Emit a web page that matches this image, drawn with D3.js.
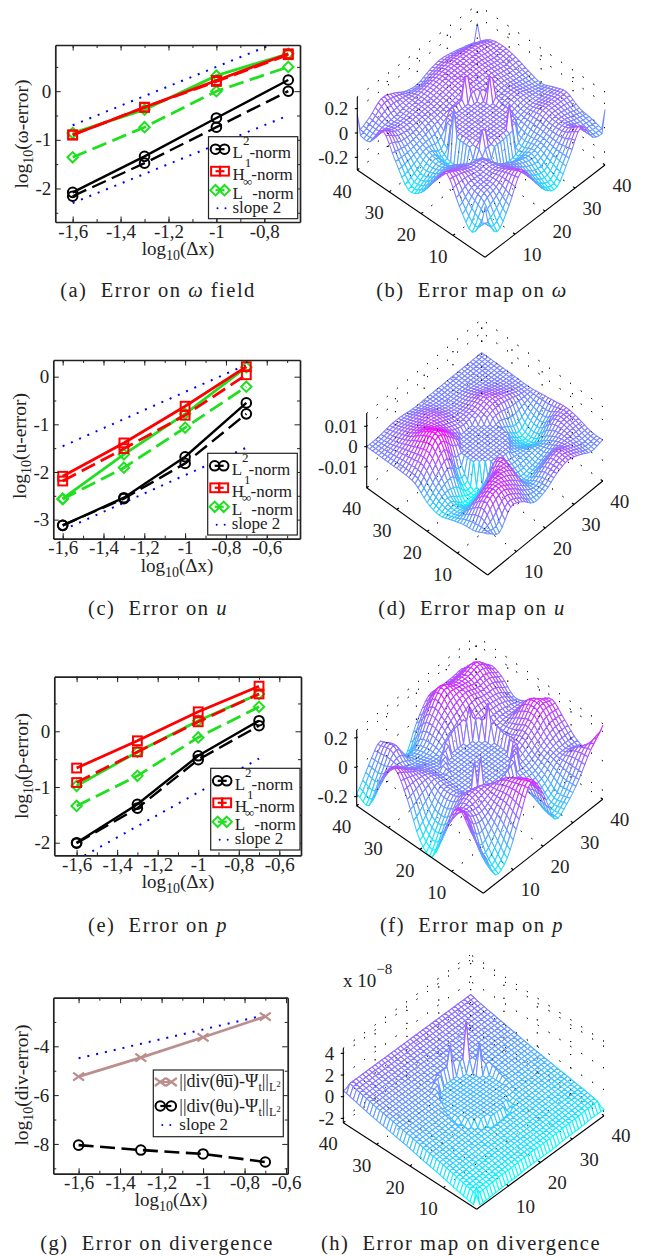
<!DOCTYPE html>
<html>
<head>
<meta charset="utf-8">
<script src="https://cdn.jsdelivr.net/npm/d3@7"></script>
<style>
  body { margin: 0; background: #fff; }
  svg { display: block; }
  text { font-family: "Liberation Serif", serif; fill: #222; }
</style>
</head>
<body>
<svg width="647" height="1256"></svg>
<script>
  // ---- line plots, values ----
  const logDx = [-1.6, -1.3, -1, -0.7];

  const omegaL2 = [-2.08, -1.34, -0.55, 0.23];
  const omegaL2Dash = [-2.16, -1.48, -0.74, 0];
  const omegaH1 = [-0.9, -0.33, 0.22, 0.77];
  const omegaH1Dash = [-0.9, -0.33, 0.2, 0.75];
  const omegaInf = [-0.86, -0.38, 0.32, 0.77];
  const omegaInfDash = [-1.36, -0.74, 0, 0.5];
  const omegaSlopes = [[-0.7, 1.1], [-2.3, -0.5]];

  const uL2 = [-3.12, -2.54, -1.68, -0.55];
  const uL2Dash = [-3.12, -2.56, -1.82, -0.78];
  const uH1 = [-2.09, -1.39, -0.62, 0.21];
  const uH1Dash = [-2.19, -1.51, -0.81, 0.04];
  const uInf = [-2.56, -1.63, -0.78, 0.2];
  const uInfDash = [-2.57, -1.91, -1.07, -0.21];
  const uSlopes = [[-1.46, 0.25], [-3.22, -1.49]];

  const pL2 = [-2, -1.31, -0.44, 0.19];
  const pL2Dash = [-2.01, -1.38, -0.51, 0.1];
  const pH1 = [-0.66, -0.17, 0.35, 0.81];
  const pH1Dash = [-0.92, -0.37, 0.17, 0.67];
  const pInf = [-0.98, -0.37, 0.19, 0.67];
  const pInfDash = [-1.34, -0.8, -0.11, 0.44];
  const pSlopes = [[-2.31, -0.49]];

  const divBar = [-5.24, -4.46, -3.63, -2.78];
  const divPlain = [-8.05, -8.25, -8.41, -8.74];
  const divSlope = [-4.49, -2.72];

  // ---- surfaces: heights estimated by eye every 4th mesh node, rows v=0..40, columns u=0..40 ----
  // the mesh nodes in between are a smooth resample of these, a 41x41 table can't be read off the picture
  const omegaHeights = [
    [0, -.17, -.03, .17, .03, -.13, -.18, -.02, .16, 0, -.03],
    [-.17, 0, .05, .12, .03, -.08, -.12, -.02, .08, .02, 0],
    [-.03, .05, .06, .07, .02, -.03, -.05, 0, .06, .05, .02],
    [.17, .12, .07, .06, -.05, -.12, -.10, 0, .08, .08, .08],
    [.03, .03, .02, -.05, .05, .05, -.03, .02, .05, .05, .05],
    [-.13, -.08, -.06, -.14, .05, .07, .05, .05, .07, .04, .01],
    [-.18, -.12, -.05, -.12, .05, .07, .08, .06, .07, .05, .04],
    [-.02, -.02, 0, .03, .06, .08, .10, .10, .10, .08, .08],
    [.16, .08, .06, .07, .08, .10, .12, .12, .12, .10, .10],
    [0, .04, .05, .07, .08, .10, .12, .13, .13, .12, .08],
    [0, .05, .13, .10, .04, .02, .06, .08, .06, .03, 0]
  ];
  const omegaHole = [6.5, 0.07];
  const omegaRim = [.08, .13, .14, .1, .1, .08, .05, .05, .05, .05, .07, .08];
  const omegaSpikes = [[0, 40, .15], [40, 0, .15], [40, 40, .14], [0, 0, .11],
    [22, 27, .28], [23, 27, .26], [26, 23, .28], [27, 23, .24], [13, 22, .27], [23, 14, .26], [15, 15, .19], [16, 15, .17]];

  const uHeights = [
    [0, -.004, .004, .002, -.003, -.002, .002, .004, .002, -.001, 0],
    [-.003, .006, .009, .006, .001, -.003, .001, .004, .002, 0, 0],
    [-.004, .002, .006, .008, .006, -.005, -.005, -.003, 0, .002, .002],
    [-.006, -.006, -.006, -.002, .006, -.002, -.003, -.003, -.004, .002, .003],
    [-.008, -.006, -.011, -.012, -.010, 0, -.002, -.006, -.009, -.004, .002],
    [-.006, -.001, .002, -.008, 0, 0, 0, -.004, -.008, -.003, .001],
    [-.001, .006, .013, .008, .002, 0, .002, .004, .003, .001, 0],
    [0, .005, .011, .008, .004, .002, .003, .005, .003, .001, 0],
    [0, .003, .006, .006, .005, .002, .001, .002, .001, 0, 0],
    [0, .001, .003, .003, .003, .001, 0, 0, 0, 0, 0],
    [0, 0, .001, .001, 0, 0, 0, 0, 0, 0, 0]
  ];
  const uHole = [6.4, 0];
  const uRim = [];
  const uSpikes = [];

  const pHeights = [
    [0, -.2, -.15, .05, .24, .1, -.14, -.1, 0, .14, .22],
    [.1, -.12, -.05, .1, .2, .1, -.12, -.12, 0, .1, .02],
    [.2, .08, .05, .1, .15, .02, -.05, -.05, .02, .03, .02],
    [0, .05, .1, .1, .05, 0, 0, 0, .05, .1, .1],
    [-.25, -.1, .03, 0, 0, 0, 0, .05, .12, .2, .18],
    [-.2, -.1, .02, 0, 0, 0, 0, .02, .08, .18, .12],
    [.02, .05, .05, 0, 0, 0, 0, .03, .05, .05, .05],
    [.17, .1, .04, 0, -.02, 0, .05, .1, .1, .08, .02],
    [.05, .05, 0, -.03, -.02, .08, .15, .18, .15, .15, .1],
    [-.2, -.05, .08, -.05, -.05, .1, .22, .18, .18, .2, .12],
    [-.18, -.05, .05, -.1, -.19, -.02, .1, .1, .1, .1, 0]
  ];
  const pHole = [7.4, 0];
  const pRim = [.08, .12, .14, .12, .05, .02, 0, 0, .02, .05, .1, .1];
  const pSpikes = [[40, 0, .24], [24, 27, .22], [27, 24, .24], [15, 15, .2], [14, 16, .17]];

  const divHeights = [
    [-1.5, -1.5, -1.4, -1.4, -1.3, -1.3, -1.3, -1.2, -1.2, -1.1, -1.1],
    [-1.25, -1.2, -1.15, -1.1, -1.05, -1.05, -1.05, -1, -.95, -.9, -.85],
    [-.95, -.9, -.9, -.85, -.85, -.8, -.8, -.75, -.75, -.7, -.65],
    [-.65, -.65, -.6, -.6, -.6, -.55, -.55, -.55, -.5, -.5, -.45],
    [-.4, -.4, -.4, -.35, -.35, -.35, -.35, -.3, -.3, -.25, -.25],
    [-.1, -.1, -.1, -.1, -.1, -.05, -.05, -.05, -.05, -.05, -.05],
    [.15, .15, .15, .15, .15, .15, .15, .15, .2, .2, .2],
    [.4, .4, .4, .4, .4, .4, .4, .45, .45, .45, .45],
    [.65, .65, .65, .65, .65, .65, .7, .7, .7, .7, .7],
    [.95, .95, .95, .95, .95, .95, .95, .95, .95, .95, .95],
    [1.25, 1.25, 1.25, 1.25, 1.25, 1.25, 1.25, 1.25, 1.25, 1.25, 1.25]
  ];
  const divHole = [7.4, -0.3];
  const divRim = [.2, .7, .9, .8, .8, .2, -.3, -.8, -1, -1, -.8, -.3];
  const divSpikes = [[0, 0, -.3], [25, 27, 4.1], [21, 28, 2.6], [26, 24, 2.5]];
  const divEdgeDrop = 0.7;

  const zTicksOmega = [-0.2, 0, 0.2];
  const zTicksU = [-0.01, 0, 0.01];
  const zTicksDiv = [-2, 0, 2, 4];
  const baseTicks = [10, 20, 30, 40];

  // ---- colours ----
  const black = '#000', red = '#ff0000', green = '#1fe01f', blue = '#0000ee', brown = '#bc8f8f';
  const ink = '#222';

  const svg = d3.select('svg');

  function marker(g, kind, x, y, color) {
    const s = g.append('g').attr('transform', `translate(${x},${y})`)
      .attr('fill', 'none').attr('stroke', color).attr('stroke-width', 2);
    if (kind === 'circle') s.append('circle').attr('r', 4.8);
    if (kind === 'square') s.append('rect').attr('x', -4.4).attr('y', -4.4).attr('width', 8.8).attr('height', 8.8);
    if (kind === 'diamond') s.append('path').attr('d', 'M0,-5.2L5.2,0L0,5.2L-5.2,0Z');
    if (kind === 'cross') s.append('path').attr('d', 'M-5.5,-4L5.5,4M-5.5,4L5.5,-4').attr('stroke-width', 2.2);
  }

  let clipId = 0;
  function linePlot(p) {
    const x = d3.scaleLinear(p.xDomain, [p.box[0], p.box[2]]);
    const y = d3.scaleLinear(p.yDomain, [p.box[1], p.box[3]]);
    const g = svg.append('g');
    const id = 'clip' + (clipId++);
    g.append('clipPath').attr('id', id).append('rect')
      .attr('x', p.box[0]).attr('y', p.box[1])
      .attr('width', p.box[2] - p.box[0]).attr('height', p.box[3] - p.box[1]);

    const line = d3.line().x(d => x(d[0])).y(d => y(d[1]));
    const plot = g.append('g').attr('clip-path', `url(#${id})`);

    p.slopes.forEach(s => {
      plot.append('path').attr('d', line([[logDx[0], s[0]], [logDx[3], s[1]]]))
        .attr('fill', 'none').attr('stroke', blue).attr('stroke-width', 2).attr('stroke-dasharray', '2 7');
    });
    p.series.forEach(s => {
      const pts = logDx.map((d, i) => [d, s.values[i]]);
      plot.append('path').attr('d', line(pts)).attr('fill', 'none')
        .attr('stroke', s.color).attr('stroke-width', s.width || 2.4)
        .attr('stroke-dasharray', s.dash ? '15 6.5' : null);
      pts.forEach(d => marker(plot, s.kind, x(d[0]), y(d[1]), s.color));
    });

    // axes, all four sides with inward ticks
    const fmt = d => String(d).replace('.', ',');
    const axes = [
      [d3.axisBottom(x), 0, p.box[3], p.xTicks, p.xMinor],
      [d3.axisTop(x), 0, p.box[1], p.xTicks, p.xMinor],
      [d3.axisLeft(y), p.box[0], 0, p.yTicks, p.yMinor],
      [d3.axisRight(y), p.box[2], 0, p.yTicks, p.yMinor]
    ];
    axes.forEach((a, i) => {
      const minor = g.append('g').attr('transform', `translate(${a[1]},${a[2]})`)
        .call(a[0].tickValues(a[4]).tickSize(-3).tickFormat(''));
      minor.select('.domain').remove();
      minor.selectAll('line').attr('stroke', ink);
      const major = g.append('g').attr('transform', `translate(${a[1]},${a[2]})`)
        .call(a[0].tickValues(a[3]).tickSize(-5.5).tickSizeOuter(0)
          .tickFormat(i === 0 || i === 2 ? fmt : ''));
      major.select('.domain').attr('stroke', ink).attr('stroke-width', 1.7);
      major.selectAll('line').attr('stroke', ink);
      major.selectAll('text').attr('fill', ink).attr('font-size', 19)
        .attr('font-family', '"Liberation Serif", serif');
      if (i === 0) major.selectAll('text').attr('y', 2).attr('dy', '0.71em');
      if (i === 2) major.selectAll('text').attr('x', -4);
    });

    // x label
    const xl = g.append('text').attr('x', p.xLabel[0]).attr('y', p.xLabel[1])
      .attr('text-anchor', 'middle').attr('font-size', 19);
    xl.append('tspan').text('log');
    xl.append('tspan').attr('font-size', 14).attr('dy', 5).text('10');
    xl.append('tspan').attr('dy', -5).text('(Δx)');
    // y label
    const yl = g.append('text').attr('transform', `translate(${p.yLabel[0]},${p.yLabel[1]}) rotate(-90)`)
      .attr('text-anchor', 'middle').attr('font-size', 19.5);
    yl.append('tspan').text('log');
    yl.append('tspan').attr('font-size', 14).attr('dy', 5).text('10');
    yl.append('tspan').attr('dy', -5).text(`(${p.yName}-error)`);

    legend(g, p);
  }

  function legend(g, p) {
    const b = p.legend;
    g.append('rect').attr('x', b[0]).attr('y', b[1]).attr('width', b[2] - b[0]).attr('height', b[3] - b[1])
      .attr('fill', '#fff').attr('stroke', ink).attr('stroke-width', 1.2);
    p.legendRows.forEach(r => {
      const yy = b[1] + r.y;
      if (r.kind) {
        g.append('line').attr('x1', b[0] + r.mx[0]).attr('x2', b[0] + r.mx[1]).attr('y1', yy).attr('y2', yy)
          .attr('stroke', r.color).attr('stroke-width', 2.2);
        r.mx.forEach(m => marker(g, r.kind, b[0] + m, yy, r.color));
      } else {
        [9, 17].forEach(m => g.append('circle').attr('cx', b[0] + m).attr('cy', yy).attr('r', 1).attr('fill', blue));
      }
      const t = g.append('text').attr('x', b[0] + r.tx).attr('y', b[1] + r.base).attr('font-size', r.size || 17);
      r.parts.forEach(q => {
        const s = t.append('tspan').text(q[0]);
        if (q[1]) s.attr('dy', q[1]);
        if (q[2]) s.attr('font-size', q[2]);
      });
    });
  }

  const normRows = [
    { y: 12.5, base: 21.5, tx: 24, kind: 'circle', color: black, mx: [7, 16], parts: [['L'], ['2', -13, 13], ['-norm', 13, 17]] },
    { y: 34.5, base: 43.5, tx: 24, kind: 'square', color: red, mx: [7, 16], parts: [['H'], ['1', -13, 13], ['-norm', 13, 17]] },
    { y: 53.5, base: 62, tx: 24, kind: 'diamond', color: green, mx: [7, 16], parts: [['L'], ['∞', -13, 13], ['-norm', 13, 17]] },
    { y: 71.5, base: 76, tx: 24, parts: [['slope 2']] }
  ];

  function normSeries(a, b, c, d, e, f) {
    return [
      { values: a, color: black, kind: 'circle' },
      { values: b, color: black, kind: 'circle', dash: true },
      { values: e, color: green, kind: 'diamond', width: 2.8 },
      { values: f, color: green, kind: 'diamond', dash: true, width: 2.8 },
      { values: c, color: red, kind: 'square', width: 2.8 },
      { values: d, color: red, kind: 'square', dash: true, width: 2.8 }
    ];
  }

  linePlot({
    box: [55.3, 45, 300, 222], xDomain: [-1.6725, -0.651], yDomain: [0.95, -2.69],
    xTicks: [-1.6, -1.4, -1.2, -1, -0.8], xMinor: d3.range(-1.6, -0.7, 0.1), yTicks: [-2, -1, 0], yMinor: [-2.5, -1.5, -0.5, 0.5],
    slopes: omegaSlopes, series: normSeries(omegaL2, omegaL2Dash, omegaH1, omegaH1Dash, omegaInf, omegaInfDash),
    xLabel: [178, 255], yLabel: [28, 134], yName: 'ω',
    legend: [208.5, 136.7, 297.7, 218.7], legendRows: normRows
  });
  linePlot({
    box: [53.3, 360, 300, 538.7], xDomain: [-1.646, -0.437], yDomain: [0.35, -3.4],
    xTicks: [-1.6, -1.4, -1.2, -1, -0.8, -0.6], xMinor: d3.range(-1.6, -0.45, 0.1), yTicks: [-3, -2, -1, 0], yMinor: [-2.5, -1.5, -0.5],
    slopes: uSlopes, series: normSeries(uL2, uL2Dash, uH1, uH1Dash, uInf, uInfDash),
    xLabel: [177, 572], yLabel: [26, 446], yName: 'u',
    legend: [207.7, 453.3, 297.3, 535], legendRows: normRows
  });
  linePlot({
    box: [54.3, 676.7, 301, 855.3], xDomain: [-1.71, -0.493], yDomain: [0.98, -2.226],
    xTicks: [-1.6, -1.4, -1.2, -1, -0.8, -0.6], xMinor: d3.range(-1.6, -0.5, 0.1), yTicks: [-2, -1, 0], yMinor: [-1.5, -0.5, 0.5],
    slopes: pSlopes, series: normSeries(pL2, pL2Dash, pH1, pH1Dash, pInf, pInfDash),
    xLabel: [178, 888], yLabel: [28, 766], yName: 'p',
    legend: [210.7, 768.3, 300, 850], legendRows: normRows
  });
  linePlot({
    box: [53.3, 997.7, 287.7, 1173.7], xDomain: [-1.722, -0.592], yDomain: [-2.008, -9.22],
    xTicks: [-1.6, -1.4, -1.2, -1, -0.8, -0.6], xMinor: d3.range(-1.6, -0.6, 0.1), yTicks: [-8, -6, -4], yMinor: [-9, -7, -5, -3],
    slopes: [divSlope],
    series: [
      { values: divBar, color: brown, kind: 'cross', width: 2.8 },
      { values: divPlain, color: black, kind: 'circle', dash: true, width: 2.6 }
    ],
    xLabel: [171, 1206], yLabel: [28, 1085], yName: 'div',
    legend: [153.3, 1070, 283.3, 1136.7],
    legendRows: [
      { y: 12, base: 17, tx: 26, size: 18, kind: 'cross', color: brown, mx: [7, 18], parts: [['||div(θu̅)-Ψ'], ['t', 4, 12], ['||', -4, 18], ['L', 4, 12], ['2', -4, 9]] },
      { y: 36, base: 41.5, tx: 26, size: 18, kind: 'circle', color: black, mx: [7, 18], parts: [['||div(θu)-Ψ'], ['t', 4, 12], ['||', -4, 18], ['L', 4, 12], ['2', -4, 9]] },
      { y: 55, base: 59.5, tx: 26, parts: [['slope 2']] }
    ]
  });

  // catmull-rom through the read heights, every 4 nodes up to 41x41
  function resample(h) {
    const cr = (a, b, c, d, t) => 0.5 * (2 * b + (c - a) * t + (2 * a - 5 * b + 4 * c - d) * t * t + (3 * b - a - 3 * c + d) * t * t * t);
    const at = (r, c) => h[Math.max(0, Math.min(10, r))][Math.max(0, Math.min(10, c))];
    const out = [];
    for (let v = 0; v <= 40; v++) {
      const row = [];
      const r = Math.min(9, Math.floor(v / 4)), tv = v / 4 - r;
      for (let u = 0; u <= 40; u++) {
        const c = Math.min(9, Math.floor(u / 4)), tu = u / 4 - c;
        const col = [-1, 0, 1, 2].map(i => cr(at(r + i, c - 1), at(r + i, c), at(r + i, c + 1), at(r + i, c + 2), tu));
        row.push(cr(col[0], col[1], col[2], col[3], tv));
      }
      out.push(row);
    }
    return out;
  }

  function surface(p) {
    const dx = d3.scaleLinear([0, 40], [0, 1]);
    const px = (u, v) => p.O[0] + dx(u) * (p.R[0] - p.O[0]) + dx(v) * (p.L[0] - p.O[0]);
    const py = (u, v) => p.O[1] + dx(u) * (p.R[1] - p.O[1]) + dx(v) * (p.L[1] - p.O[1]);
    const zs = d3.scaleLinear(p.zDomain, [0, -p.zHeight]);
    const color = d3.scaleLinear(p.colorDomain, ['#00ffff', '#ff00ff']).clamp(true);

    const grid = resample(p.heights);
    const [hr, hl] = p.hole;
    for (let v = 0; v <= 40; v++) for (let u = 0; u <= 40; u++) {
      const d = Math.hypot(u - 20, v - 20);
      if (d < hr) grid[v][u] = hl;
      else if (d < hr + 1.5 && p.rim.length) {
        const a = ((Math.atan2(v - 20, u - 20) * 180 / Math.PI + 360) % 360) / 30;
        const i = Math.floor(a), t = a - i;
        grid[v][u] = p.rim[i % 12] * (1 - t) + p.rim[(i + 1) % 12] * t;
      }
      if (p.edgeDrop && (u === 0 || v === 0 || u === 40 || v === 40)) grid[v][u] -= p.edgeDrop;
    }
    p.spikes.forEach(s => { grid[s[1]][s[0]] = s[2]; });

    const g = svg.append('g');
    const pt = (u, v) => [px(u, v), py(u, v) + zs(grid[v][u])];

    const dotted = path => g.append('path').attr('d', path).attr('fill', 'none')
      .attr('stroke', '#000').attr('stroke-width', 1).attr('stroke-dasharray', '1 12');
    const seg = (a, b) => `M${a[0]},${a[1]}L${b[0]},${b[1]}`;
    const wallDots = () => {
      const top = zs(p.zDomain[1]);
      baseTicks.forEach(t => {
        dotted(seg([px(t, 0), py(t, 0)], [px(t, 40), py(t, 40)]));
        dotted(seg([px(0, t), py(0, t)], [px(40, t), py(40, t)]));
        dotted(seg([px(t, 40), py(t, 40)], [px(t, 40), py(t, 40) + top]));
        dotted(seg([px(40, t), py(40, t)], [px(40, t), py(40, t) + top]));
      });
      p.zTicks.forEach(z => {
        dotted(seg([px(0, 40), py(0, 40) + zs(z)], [px(40, 40), py(40, 40) + zs(z)]));
        dotted(seg([px(40, 0), py(40, 0) + zs(z)], [px(40, 40), py(40, 40) + zs(z)]));
      });
      dotted(seg([px(0, 40), py(0, 40) + top], [px(40, 40), py(40, 40) + top]));
      dotted(seg([px(40, 0), py(40, 0) + top], [px(40, 40), py(40, 40) + top]));
    };
    wallDots();

    // back to front, white faces hide what is behind them
    for (let v = 39; v >= 0; v--) for (let u = 39; u >= 0; u--) {
      const c = [pt(u, v), pt(u + 1, v), pt(u + 1, v + 1), pt(u, v + 1)];
      const z = (grid[v][u] + grid[v][u + 1] + grid[v + 1][u] + grid[v + 1][u + 1]) / 4;
      g.append('path').attr('d', 'M' + c.join('L') + 'Z').attr('fill', '#fff')
        .attr('stroke', color(z)).attr('stroke-width', 1.05).attr('stroke-linejoin', 'round');
    }
    wallDots();

    // box axes
    const axis = (a, b) => g.append('line').attr('x1', a[0]).attr('y1', a[1]).attr('x2', b[0]).attr('y2', b[1])
      .attr('stroke', '#000').attr('stroke-width', 1.1);
    axis(p.O, p.R);
    axis(p.O, p.L);
    axis(p.L, [p.L[0], p.L[1] - p.zHeight]);
    baseTicks.forEach(t => {
      axis([px(t, 0), py(t, 0)], [px(t, 0) - 2, py(t, 0) - 1.5]);
      axis([px(0, t), py(0, t)], [px(0, t) + 2, py(0, t) - 1.5]);
      const label = (x, y) => g.append('text').attr('x', x).attr('y', y).attr('text-anchor', 'middle')
        .attr('dy', '0.35em').attr('font-size', 19).text(t);
      label(px(t, 0) + 17, py(t, 0) + 20);
      label(px(0, t) - 15, py(0, t) + 21);
    });
    p.zTicks.forEach(z => {
      const y = p.L[1] + zs(z);
      axis([p.L[0], y], [p.L[0] - 2.5, y]);
      g.append('text').attr('x', p.L[0] - 9).attr('y', y).attr('dy', '0.35em')
        .attr('text-anchor', 'end').attr('font-size', 19).text(String(z));
    });
  }

  surface({
    O: [485, 257.3], R: [605, 165], L: [357.3, 170], zDomain: [-0.304, 0.296], zHeight: 73, colorDomain: [-0.22, 0.3],
    heights: omegaHeights, hole: omegaHole, rim: omegaRim, spikes: omegaSpikes, zTicks: zTicksOmega
  });
  surface({
    O: [487.7, 575], R: [602.7, 481], L: [366.7, 487.7], zDomain: [-0.0202, 0.0164], zHeight: 74.4, colorDomain: [-0.012, 0.013],
    heights: uHeights, hole: uHole, rim: uRim, spikes: uSpikes, zTicks: zTicksU
  });
  surface({
    O: [483.3, 893.3], R: [602.7, 799.3], L: [356.7, 805.7], zDomain: [-0.262, 0.254], zHeight: 75.7, colorDomain: [-0.25, 0.3],
    heights: pHeights, hole: pHole, rim: pRim, spikes: pSpikes, zTicks: zTicksOmega
  });
  surface({
    O: [476.7, 1209.3], R: [604, 1115.7], L: [343.3, 1122.7], zDomain: [-2.4, 4.47], zHeight: 74.4, colorDomain: [-1.7, 3.3],
    heights: divHeights, hole: divHole, rim: divRim, spikes: divSpikes, zTicks: zTicksDiv, edgeDrop: divEdgeDrop
  });

  // multiplier above the last surface
  const mult = svg.append('text').attr('x', 343).attr('y', 987).attr('font-size', 19);
  mult.append('tspan').text('x 10');
  mult.append('tspan').attr('dy', -13).attr('font-size', 15).text('−8');

  // captions
  const captions = [
    [158, 297, [['(a)  Error on '], ['ω', 1], [' field']]],
    [472, 297, [['(b)  Error map on '], ['ω', 1]]],
    [158, 615, [['(c)  Error on '], ['u', 1]]],
    [472, 615, [['(d)  Error map on '], ['u', 1]]],
    [158, 932, [['(e)  Error on '], ['p', 1]]],
    [472, 932, [['(f)  Error map on '], ['p', 1]]],
    [157, 1250, [['(g)  Error on divergence']]],
    [461, 1250, [['(h)  Error map on divergence']]]
  ];
  captions.forEach(c => {
    const t = svg.append('text').attr('x', c[0]).attr('y', c[1]).attr('text-anchor', 'middle')
      .attr('font-size', 20.5).attr('letter-spacing', 1.5).style('white-space', 'pre');
    c[2].forEach(q => t.append('tspan').attr('font-style', q[1] ? 'italic' : null).text(q[0]));
  });
</script>
</body>
</html>
